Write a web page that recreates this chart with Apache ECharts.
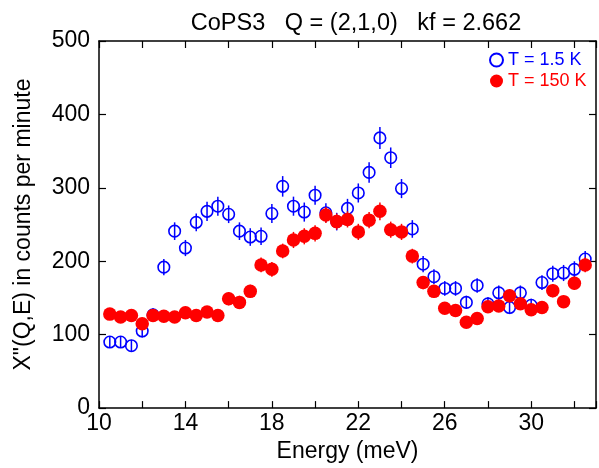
<!DOCTYPE html>
<html>
<head>
<meta charset="utf-8">
<script src="https://cdn.jsdelivr.net/npm/echarts@6/dist/echarts.min.js"></script>
<style>
html,body{margin:0;padding:0;background:#fff;}
#chart{width:599px;height:468px;}
</style>
</head>
<body>
<div id="chart"></div>
<script>
// Energy transfer (meV)
var energies = [10.5, 11, 11.5, 12, 12.5, 13, 13.5, 14, 14.5, 15, 15.5, 16, 16.5, 17, 17.5, 18, 18.5, 19, 19.5, 20,
  20.5, 21, 21.5, 22, 22.5, 23, 23.5, 24, 24.5, 25, 25.5, 26, 26.5, 27, 27.5, 28, 28.5, 29, 29.5, 30,
  30.5, 31, 31.5, 32, 32.5];
// T = 1.5 K (open blue circles)
var lowT = [90, 90, 85, 105, 127, 192, 241, 218, 253, 268, 275, 264, 241, 233, 234, 265, 302, 275, 267, 290,
  266, 254, 272, 293, 321, 368, 341, 299, 244, 196, 179, 163, 163, 144, 167, 142, 157, 137, 157, 140,
  171, 183, 184, 189, 203];
var lowTErr = [8, 8, 8, 9, 9, 11, 12, 11, 12, 13, 13, 12, 12, 12, 12, 13, 14, 13, 13, 13,
  13, 12, 13, 13, 14, 15, 14, 13, 12, 11, 10, 10, 10, 9, 10, 9, 10, 9, 10, 9,
  10, 11, 11, 11, 11];
// T = 150 K (filled red circles)
var highT = [128, 124, 126, 115, 126, 125, 124, 130, 126, 131, 126, 149, 144, 159, 195, 189, 214, 229, 234, 238,
  263, 254, 257, 240, 256, 268, 243, 240, 207, 171, 159, 136, 133, 117, 122, 138, 139, 153, 142, 134,
  137, 160, 145, 170, 195];
var highTErr = [8, 8, 8, 8, 8, 8, 8, 8, 8, 8, 8, 9, 9, 9, 10, 10, 10, 11, 11, 11,
  11, 11, 11, 11, 11, 12, 11, 11, 10, 9, 9, 8, 8, 8, 8, 8, 8, 9, 8, 8,
  8, 9, 8, 9, 10];
var xTickLabels = [10, 14, 18, 22, 26, 30];
var yTickLabels = [0, 100, 200, 300, 400, 500];
var titleText = 'CoPS3   Q = (2,1,0)   kf = 2.662';
var seriesNames = ['T = 1.5 K', 'T = 150 K'];

var BLUE = '#0000ff', RED = '#ff0000';
var FONT = 'Liberation Sans';

function pts(vals) { return energies.map(function (e, i) { return [e, vals[i]]; }); }
function bars(vals, errs) { return energies.map(function (e, i) { return [e, vals[i] - errs[i], vals[i] + errs[i]]; }); }
function errRender(color) {
  return function (params, api) {
    var p1 = api.coord([api.value(0), api.value(1)]);
    var p2 = api.coord([api.value(0), api.value(2)]);
    return { type: 'line', shape: { x1: p1[0], y1: p1[1], x2: p2[0], y2: p2[1] },
      style: { stroke: color, lineWidth: 1.5 } };
  };
}

var axisCommon = {
  axisLine: { show: true, onZero: false, lineStyle: { color: '#000', width: 1.5 } },
  axisTick: { show: true, inside: true, length: 7, lineStyle: { color: '#000', width: 1.2 } },
  splitLine: { show: false }
};

var chart = echarts.init(document.getElementById('chart'), null, { renderer: 'canvas' });
chart.setOption({
  backgroundColor: '#fff',
  animation: false,
  textStyle: { fontFamily: FONT },
  title: {
    text: titleText, left: 351, textAlign: 'center', top: 7,
    textStyle: { fontFamily: FONT, fontSize: 23.5, fontWeight: 'normal', color: '#000' }
  },
  legend: {
    orient: 'vertical', left: 484, top: 46, itemWidth: 13, itemHeight: 13, itemGap: 3,
    textStyle: { fontFamily: FONT, fontSize: 18 },
    data: [
      { name: seriesNames[0], textStyle: { color: BLUE } },
      { name: seriesNames[1], textStyle: { color: RED } }
    ]
  },
  grid: { left: 99, top: 41, width: 504, height: 372 },
  xAxis: [
    Object.assign({}, axisCommon, {
      type: 'value', position: 'bottom', min: 10, max: 33, interval: 2,
      name: 'Energy (meV)', nameLocation: 'middle', nameGap: 28,
      nameTextStyle: { fontFamily: FONT, fontSize: 23, color: '#000' },
      axisLabel: { margin: 4, fontFamily: FONT, fontSize: 23, color: '#000',
        formatter: function (v) { return xTickLabels.indexOf(v) >= 0 ? String(v) : ''; } }
    }),
    Object.assign({}, axisCommon, {
      type: 'value', position: 'top', min: 10, max: 33, interval: 2, axisLabel: { show: false }
    })
  ],
  yAxis: [
    Object.assign({}, axisCommon, {
      type: 'value', position: 'left', min: 0, max: 500, interval: 100,
      name: 'X"(Q,E) in counts per minute', nameLocation: 'middle', nameGap: 64,
      nameTextStyle: { fontFamily: FONT, fontSize: 23, color: '#000' },
      axisLabel: { margin: 9, fontFamily: FONT, fontSize: 23, color: '#000',
        formatter: function (v) { return yTickLabels.indexOf(v) >= 0 ? String(v) : ''; } }
    }),
    Object.assign({}, axisCommon, {
      type: 'value', position: 'right', min: 0, max: 500, interval: 100, axisLabel: { show: false }
    })
  ],
  series: [
    { type: 'custom', name: seriesNames[0] + ' err', renderItem: errRender(BLUE), data: bars(lowT, lowTErr),
      encode: { x: 0, y: [1, 2] }, z: 2, silent: true },
    { type: 'scatter', name: seriesNames[0], data: pts(lowT), symbol: 'circle', symbolSize: 11.5,
      itemStyle: { color: 'rgba(255,255,255,0)', borderColor: BLUE, borderWidth: 1.6, opacity: 1 }, z: 3 },
    { type: 'custom', name: seriesNames[1] + ' err', renderItem: errRender(RED), data: bars(highT, highTErr),
      encode: { x: 0, y: [1, 2] }, z: 4, silent: true },
    { type: 'scatter', name: seriesNames[1], data: pts(highT), symbol: 'circle', symbolSize: 13.5,
      itemStyle: { color: RED, opacity: 1 }, z: 5 }
  ]
});
</script>
</body>
</html>
